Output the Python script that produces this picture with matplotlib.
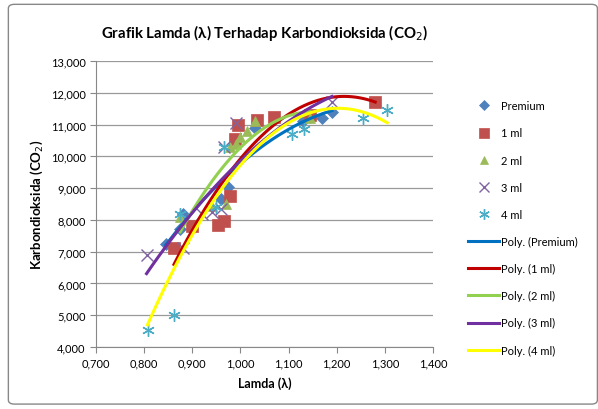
import numpy as np
import matplotlib.pyplot as plt
from matplotlib.patches import FancyBboxPatch

plt.rcParams['font.family'] = ['Lato', 'DejaVu Sans']

premium_x = [0.845, 0.875, 0.88, 0.96, 0.975, 1.03, 1.13, 1.145, 1.17, 1.19]
premium_y = [7250, 7700, 8200, 8650, 9050, 10900, 11100, 11250, 11200, 11400]

ml1_x = [0.862, 0.90, 0.953, 0.965, 0.978, 0.988, 0.995, 1.035, 1.07, 1.145, 1.28]
ml1_y = [7100, 7800, 7850, 7950, 8750, 10550, 11000, 11150, 11250, 11300, 11700]

ml2_x = [0.875, 0.94, 0.97, 0.978, 0.99, 1.0, 1.013, 1.03, 1.145]
ml2_y = [8100, 8450, 8500, 10300, 10400, 10600, 10800, 11100, 11200]

ml3_x = [0.805, 0.88, 0.92, 0.94, 0.96, 0.965, 0.99, 1.19]
ml3_y = [6900, 7100, 8200, 8250, 8350, 10300, 11050, 11700]

ml4_x = [0.807, 0.862, 0.875, 0.95, 0.965, 1.107, 1.133, 1.255, 1.305]
ml4_y = [4550, 5000, 8200, 8400, 10300, 10700, 10850, 11200, 11450]

names = ["Premium", "1 ml", "2 ml", "3 ml", "4 ml"]
series = [(premium_x, premium_y), (ml1_x, ml1_y), (ml2_x, ml2_y),
          (ml3_x, ml3_y), (ml4_x, ml4_y)]
marker_colors = ["#4F81BD", "#C0504D", "#9BBB59", "#8064A2", "#4BACC6"]
markers = ["D", "s", "^", "x", (6, 2, 0)]
msizes = [6, 8, 7, 8, 9]
line_colors = ["#0070C0", "#C00000", "#92D050", "#7030A0", "#FFFF00"]

fig = plt.figure(figsize=(5.98, 4.10), dpi=100)
fig.patches.append(FancyBboxPatch((0.014, 0.012), 0.985, 0.975, boxstyle="round,pad=0,rounding_size=0.01",
                                  transform=fig.transFigure, fill=False, edgecolor="#888888", linewidth=1))
ax = fig.add_axes([96 / 598, 1 - 348 / 410, (433 - 96) / 598, (348 - 62) / 410])

handles = []
for (x, y), name, c, m, s in zip(series, names, marker_colors, markers, msizes):
    h, = ax.plot(x, y, linestyle="none", marker=m, color=c, markersize=s,
                 markeredgewidth=1 if m in ("x", (6, 2, 0)) else 0.5, label=name, zorder=3)
    handles.append(h)

for (x, y), name, c in zip(series, names, line_colors):
    coef = np.polyfit(x, y, 2)
    xs = np.linspace(min(x), max(x), 100)
    h, = ax.plot(xs, np.polyval(coef, xs), color=c, linewidth=2.2, label=f"Poly. ({name})", zorder=4)
    handles.append(h)

ax.set_xlim(0.7, 1.4)
ax.set_ylim(4000, 13000)
ax.set_xticks(np.arange(0.7, 1.401, 0.1))
ax.set_xticklabels([f"{v:.3f}".replace(".", ",") for v in np.arange(0.7, 1.401, 0.1)])
ax.set_yticks(np.arange(4000, 13001, 1000))
ax.set_yticklabels([f"{v:,}" for v in range(4000, 13001, 1000)])
ax.tick_params(labelsize=8, length=4, color="#888888")
ax.grid(axis="y", color="#999999", linewidth=0.9)
ax.set_axisbelow(True)
for s in ["top", "right"]:
    ax.spines[s].set_visible(False)
for s in ["left", "bottom"]:
    ax.spines[s].set_color("#888888")

ax.set_xlabel("Lamda (λ)", fontsize=9, fontweight="bold", labelpad=6)
ax.set_ylabel("Karbondioksida (CO$_2$)", fontsize=9.5, fontweight="bold", labelpad=4)
fig.text(265 / 598, 1 - 33 / 410, "Grafik Lamda (λ) Terhadap Karbondioksida (CO$_2$)",
         ha="center", va="center", fontsize=10.8, fontweight="bold")

fig.legend(handles=handles, loc="center left", bbox_to_anchor=(458 / 598, 1 - 229 / 410),
           frameon=False, fontsize=8, labelspacing=1.45, handlelength=2.8, handletextpad=0.2,
           markerscale=0.85)

fig.savefig("out.png", dpi=100)
